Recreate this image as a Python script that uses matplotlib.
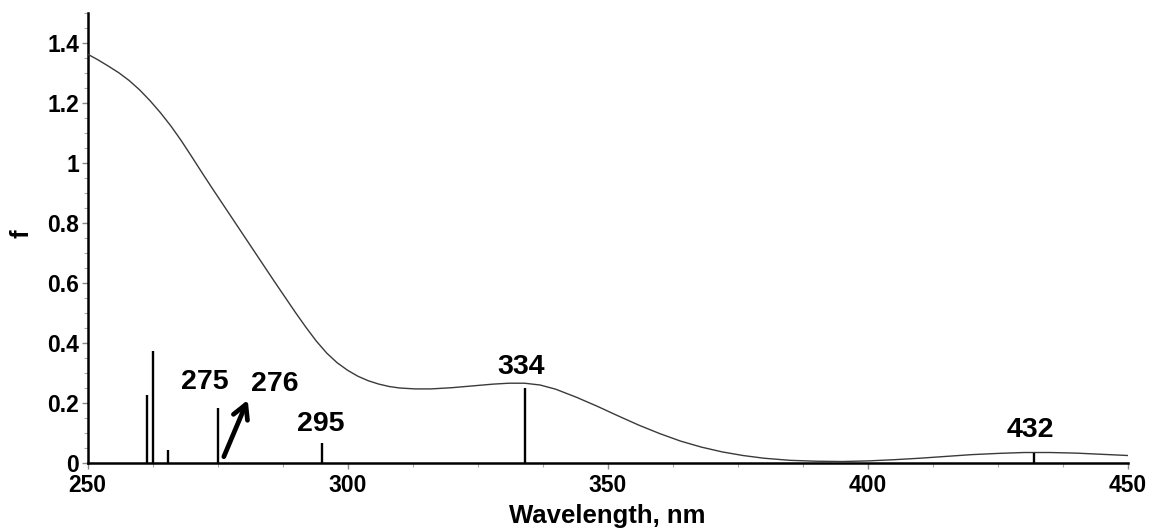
import matplotlib
matplotlib.use("Agg")
import matplotlib.pyplot as plt
from matplotlib.ticker import MultipleLocator, FuncFormatter

plt.rcParams['font.family'] = ['Liberation Sans', 'DejaVu Sans']

# Simulated absorption envelope (wavelength in nm, oscillator strength f)
curve_wl = [250, 252, 254, 256, 258, 260, 262, 264, 266, 268, 270, 272, 274,
            276, 278, 280, 282, 284, 286, 288, 290, 292, 294, 296, 298, 300,
            302, 304, 306, 308, 310, 313, 316, 320, 324, 328, 331, 334, 337,
            340, 344, 348, 352, 356, 360, 364, 368, 372, 376, 380, 385, 390,
            395, 400, 405, 410, 415, 420, 425, 430, 435, 440, 445, 450]
curve_f = [1.362, 1.343, 1.322, 1.300, 1.274, 1.243, 1.207, 1.167, 1.123,
           1.074, 1.021, 0.967, 0.914, 0.862, 0.810, 0.758, 0.706, 0.654,
           0.602, 0.551, 0.500, 0.451, 0.405, 0.365, 0.333, 0.308, 0.288,
           0.273, 0.262, 0.254, 0.249, 0.246, 0.246, 0.250, 0.256, 0.262,
           0.265, 0.265, 0.259, 0.245, 0.218, 0.188, 0.156, 0.125, 0.097,
           0.072, 0.052, 0.036, 0.024, 0.015, 0.008, 0.005, 0.004, 0.006,
           0.010, 0.015, 0.021, 0.027, 0.031, 0.034, 0.034, 0.032, 0.028,
           0.024]

# Individual transitions
stick_wl = [261.5, 262.5, 265.4, 275, 295, 334, 432]
stick_f = [0.226, 0.372, 0.042, 0.181, 0.065, 0.248, 0.031]

# Peak annotations: (text, x, y)
peak_text = ["275", "276", "295", "334", "432"]
peak_x = [272.6, 286.0, 294.8, 333.3, 431.3]
peak_y = [0.270, 0.262, 0.130, 0.318, 0.109]

fig = plt.figure(figsize=(11.56, 5.29), dpi=100)
ax = fig.add_axes([0.0757, 0.1253, 0.9001, 0.8507])

ax.plot(curve_wl, curve_f, color='#3a3a3a', lw=1.0, zorder=3)
ax.vlines(stick_wl, 0, stick_f, colors='black', lw=1.7, zorder=4)

for t, x, y in zip(peak_text, peak_x, peak_y):
    ax.text(x, y, t, ha='center', va='center', fontsize=20.5,
            fontweight='bold', color='black')

ax.annotate("", xy=(280.8, 0.209), xytext=(276.2, 0.02),
            arrowprops=dict(arrowstyle='->,head_length=1.0,head_width=0.55',
                            lw=3.4, color='black', shrinkA=0, shrinkB=0))

ax.set_xlim(250, 450)
ax.set_ylim(0, 1.5)

for side in ('top', 'right'):
    ax.spines[side].set_visible(False)
for side in ('left', 'bottom'):
    ax.spines[side].set_linewidth(1.8)
    ax.spines[side].set_color('black')

ax.xaxis.set_major_locator(MultipleLocator(50))
ax.xaxis.set_minor_locator(MultipleLocator(12.5))
ax.yaxis.set_major_locator(MultipleLocator(0.2))
ax.yaxis.set_minor_locator(MultipleLocator(0.05))
ax.yaxis.set_major_formatter(FuncFormatter(lambda v, p: f"{v:g}"))

ax.tick_params(axis='both', which='major', direction='out', length=4,
               width=1.0, color='#888888', labelsize=16.5, pad=2)
ax.tick_params(axis='x', which='major', pad=4)
ax.tick_params(axis='both', which='minor', direction='out', length=3,
               width=0.8, color='#aaaaaa')
for lab in ax.get_xticklabels() + ax.get_yticklabels():
    lab.set_fontweight('bold')

ax.set_xlabel("Wavelength, nm", fontsize=18.5, fontweight='bold',
              va='center', ha='center')
ax.xaxis.set_label_coords(0.4995, -0.118)
ax.set_ylabel("f", fontsize=18.5, fontweight='bold', va='center', ha='center')
ax.yaxis.set_label_coords(-0.063, 0.51)

fig.savefig("out.png", dpi=100)
